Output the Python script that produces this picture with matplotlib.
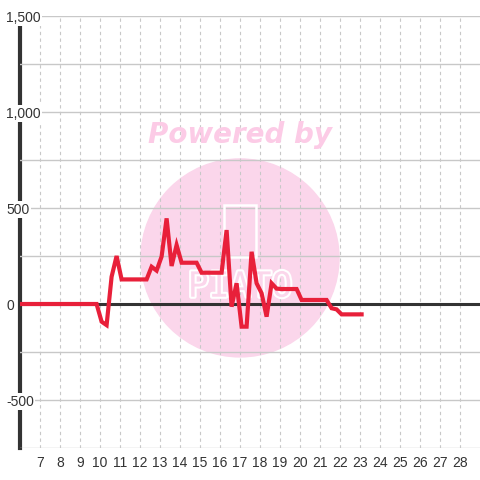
import matplotlib
matplotlib.use("Agg")
import matplotlib.pyplot as plt
import matplotlib.ticker as ticker
import matplotlib.patheffects as pe
from matplotlib.patches import Ellipse, Rectangle

# hourly values, sampled every quarter hour
hours = [5.83 + 0.25 * i for i in range(80)]
values = [0] * 17 + [
    -92, -110, 142, 250, 128, 128, 128, 128, 128, 128, 194, 174, 247, 446, 198,
    307, 215, 215, 215, 215, 163, 163, 163, 163, 163, 385, -14, 108, -118, -118,
    272, 108, 56, -66, 108, 80, 78, 78, 78, 78, 21, 21, 21, 21, 21, 21, -22,
    -28, -54, -54, -54, -54, -54,
]
hours = hours[:len(values)]

x_ticks = list(range(7, 29))
y_major = [-500, 0, 500, 1000, 1500]
y_labels = ["-500", "0", "500", "1,000", "1,500"]

plt.rcParams['font.family'] = ['Liberation Sans', 'DejaVu Sans']

fig = plt.figure(figsize=(4.8, 4.8), dpi=100)
ax = fig.add_axes([20 / 480, 32 / 480, 460 / 480, 432 / 480])
ax.set_xlim(6, 29)
ax.set_ylim(-750, 1500)

# watermark (20 px per x unit, 96 px per 500 in y)
pink = '#fbd6eb'
ax.add_patch(Ellipse((17, 240), width=9.9, height=99 * 2 * 500 / 96, color=pink, zorder=0))
ax.text(17, 880, "Powered by", ha='center', va='center', fontsize=20, fontweight='bold',
        fontstyle='italic', color='#fccbe6', family='DejaVu Sans', zorder=1)
ax.add_patch(Rectangle((16.2, 245), 1.6, 270, facecolor='none', edgecolor='white',
                       linewidth=1.8, zorder=1))
ax.text(17, 90, "PIATO", ha='center', va='center', fontsize=25, color=pink,
        family='DejaVu Sans Mono', zorder=1,
        path_effects=[pe.withStroke(linewidth=3, foreground='white')])

ax.set_xticks(x_ticks)
ax.set_yticks(y_major)
ax.set_yticklabels(y_labels)
ax.yaxis.set_minor_locator(ticker.MultipleLocator(250))
ax.grid(axis='y', which='both', color='#c8c8c8', linewidth=1)
ax.grid(axis='x', which='major', color='#c8c8c8', linewidth=0.8, linestyle=(0, (3, 3)))
ax.set_axisbelow(True)

for s in ['top', 'right', 'bottom']:
    ax.spines[s].set_visible(False)
ax.spines['left'].set_color('#333333')
ax.spines['left'].set_linewidth(3)
ax.spines['left'].set_zorder(0.3)

ax.tick_params(axis='both', which='both', length=0, labelsize=10, labelcolor='#333333')
ax.tick_params(axis='x', pad=6)
ax.tick_params(axis='y', pad=10)
for lab in ax.get_yticklabels():
    lab.set_horizontalalignment('left')
    lab.set_bbox(dict(facecolor='white', edgecolor='none', pad=1))

ax.axhline(0, color='#333333', linewidth=2.2, zorder=2)
ax.plot(hours, values, color='#e8203a', linewidth=3, zorder=3, solid_joinstyle='miter')

fig.savefig("out.png", dpi=100, facecolor='white')
